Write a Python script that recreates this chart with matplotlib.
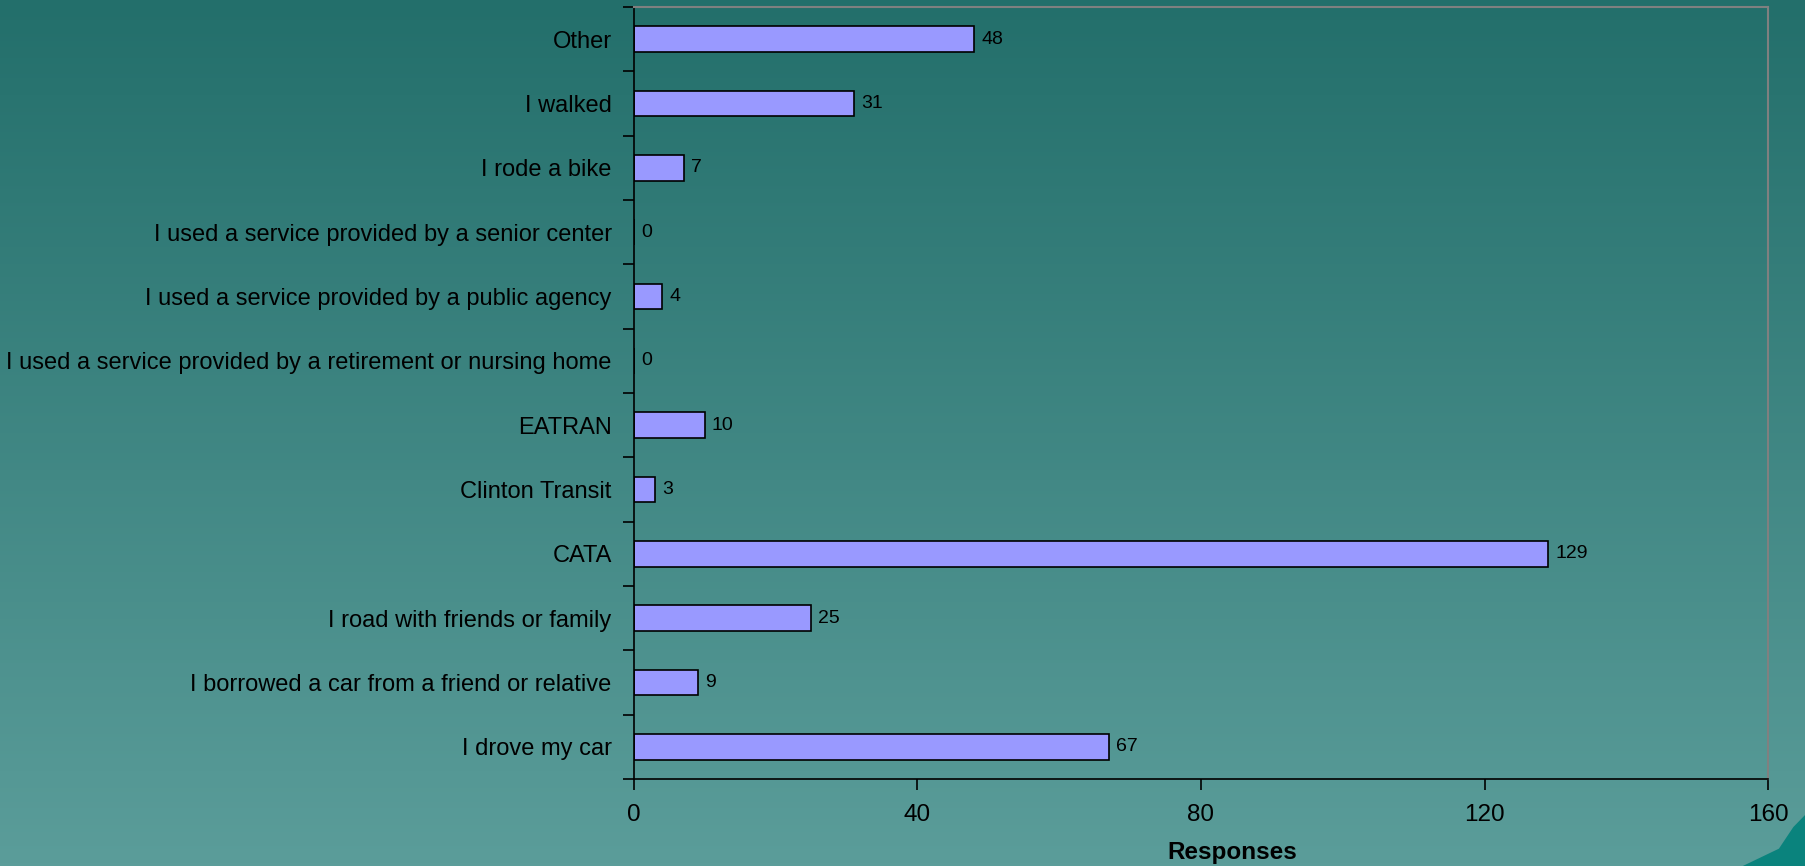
import matplotlib.pyplot as plt
import numpy as np
from matplotlib.colors import LinearSegmentedColormap
from matplotlib.patches import Polygon

plt.rcParams['font.family'] = ['Liberation Sans', 'DejaVu Sans']

categories = ["I drove my car",
              "I borrowed a car from a friend or relative",
              "I road with friends or family",
              "CATA",
              "Clinton Transit",
              "EATRAN",
              "I used a service provided by a retirement or nursing home",
              "I used a service provided by a public agency",
              "I used a service provided by a senior center",
              "I rode a bike",
              "I walked",
              "Other"]
responses = [67, 9, 25, 129, 3, 10, 0, 4, 0, 7, 31, 48]
xticks = [0, 40, 80, 120, 160]

fig = plt.figure(figsize=[18.06, 8.66], dpi=100)

# background gradient
bg = fig.add_axes([0, 0, 1, 1], zorder=-10)
cmap = LinearSegmentedColormap.from_list("bg", ["#236f6b", "#5b9d9a"])
grad = np.linspace(0, 1, 256).reshape(-1, 1)
bg.imshow(grad, aspect="auto", cmap=cmap, extent=[0, 1, 0, 1], origin="upper")
bg.add_patch(Polygon([[1.0, 0.0], [0.965, 0.0], [0.985, 0.02], [0.993, 0.045], [1.0, 0.06]],
                     closed=True, facecolor="#0a837d", edgecolor="none"))
bg.set_xlim(0, 1)
bg.set_ylim(0, 1)
bg.axis("off")

ax = fig.add_axes([0.351, 0.1005, 0.628, 0.8915])
ax.patch.set_alpha(0)
y = np.arange(len(categories))
bars = ax.barh(y, responses, height=0.4, color="#9999ff", edgecolor="black", linewidth=1.2)
for yi, v in zip(y, responses):
    ax.text(v + 1.0, yi, str(v), va="center", ha="left", fontsize=14, color="black")

ax.set_xlim(0, 160)
ax.set_ylim(-0.5, len(categories) - 0.5)
ax.set_xticks(xticks)
ax.set_xticklabels([str(t) for t in xticks], fontsize=17.5)
ax.set_yticks(y)
ax.set_yticklabels(categories, fontsize=17)
ax.tick_params(axis="y", length=0, pad=16)
ax.set_yticks(np.arange(len(categories) + 1) - 0.5, minor=True)
ax.tick_params(axis="y", which="minor", length=8, width=1.2, direction="out")
ax.tick_params(axis="x", length=8, width=1.2, direction="out", pad=10)
ax.set_xlabel("Responses", fontsize=17.5, fontweight="bold")
ax.xaxis.set_label_coords(0.528, -0.08)

for s in ["left", "bottom"]:
    ax.spines[s].set_color("black")
    ax.spines[s].set_linewidth(1.2)
for s in ["top", "right"]:
    ax.spines[s].set_color("#808080")
    ax.spines[s].set_linewidth(1.5)

fig.savefig("out.png", dpi=100)
